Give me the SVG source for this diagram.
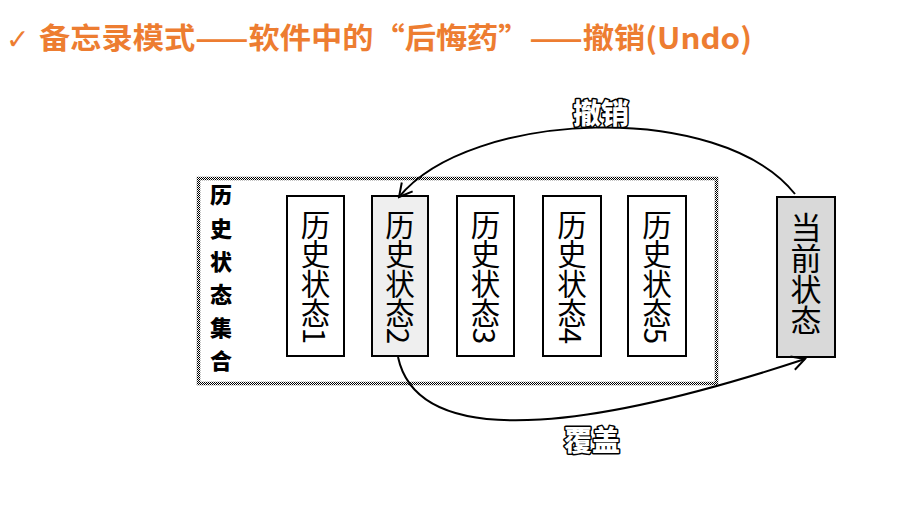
<svg xmlns="http://www.w3.org/2000/svg" width="917" height="521" viewBox="0 0 917 521">
<style>
.title{font-family:"Noto Sans CJK SC","Noto Sans",sans-serif;font-weight:bold;font-size:29px;fill:#ED7D31}
.box{stroke:#000;stroke-width:2;}
.vt{font-family:"Noto Sans CJK SC",sans-serif;font-size:29.5px;fill:#000;writing-mode:vertical-rl;text-anchor:middle}
.col{font-family:"Noto Sans CJK SC",sans-serif;font-weight:900;font-size:22px;fill:#000;text-anchor:middle}
.lbl{font-family:"Noto Sans CJK SC",sans-serif;font-weight:900;font-size:28px;fill:#fff;stroke:#000;stroke-width:3;stroke-linejoin:round;paint-order:stroke;text-anchor:middle}
.conn{fill:none;stroke:#000;stroke-width:2}
</style>
<defs>
<pattern id="chk" width="2" height="2" patternUnits="userSpaceOnUse">
<rect width="2" height="2" fill="#fff"/>
<rect width="1" height="1" fill="#000"/>
<rect x="1" y="1" width="1" height="1" fill="#000"/>
</pattern>
<marker id="open" markerWidth="16" markerHeight="16" refX="14" refY="8" orient="auto" markerUnits="userSpaceOnUse">
<path d="M1 1 L14 8 L1 15" fill="none" stroke="#000" stroke-width="2"/>
</marker>
</defs>
<rect width="917" height="521" fill="#fff"/>
<g id="title">
<text x="6" y="49" class="title" style="font-family:'DejaVu Sans',sans-serif;font-weight:bold;font-size:28px">✓</text>
<text x="39" y="49" class="title" textLength="713" lengthAdjust="spacingAndGlyphs">备忘录模式——软件中的“后悔药”——撤销(Undo)</text>
</g>
<g id="history-set">
<rect x="198.5" y="178.5" width="518" height="205" fill="#fff" stroke="url(#chk)" stroke-width="3.5"/>
<text class="col" x="221" y="203">历</text>
<text class="col" x="221" y="237">史</text>
<text class="col" x="221" y="270">状</text>
<text class="col" x="221" y="303">态</text>
<text class="col" x="221" y="336">集</text>
<text class="col" x="221" y="369">合</text>
</g>
<g id="state1"><rect class="box" x="287" y="196" width="57" height="160" fill="#fff"/><text class="vt" x="315.5" y="277">历史状态1</text></g>
<g id="state2"><rect class="box" x="372" y="196" width="56" height="160" fill="#efefef"/><text class="vt" x="400" y="277">历史状态2</text></g>
<g id="state3"><rect class="box" x="457" y="196" width="57" height="160" fill="#fff"/><text class="vt" x="485.5" y="277">历史状态3</text></g>
<g id="state4"><rect class="box" x="543" y="196" width="58" height="160" fill="#fff"/><text class="vt" x="572" y="277">历史状态4</text></g>
<g id="state5"><rect class="box" x="628" y="196" width="58" height="160" fill="#fff"/><text class="vt" x="657" y="277">历史状态5</text></g>
<g id="current"><rect class="box" x="777" y="197" width="58" height="160" fill="#d9d9d9"/><text class="vt" x="806" y="274" style="font-size:31px">当前状态</text></g>
<g id="connectors">
<path class="conn" d="M795 194 C720 100 470 110 399 197" marker-end="url(#open)"/>
<path class="conn" d="M398 357 C420 460 620 420 805 359" marker-end="url(#open)"/>
<text class="lbl" x="601" y="124">撤销</text>
<text class="lbl" x="592" y="451">覆盖</text>
</g>
</svg>
